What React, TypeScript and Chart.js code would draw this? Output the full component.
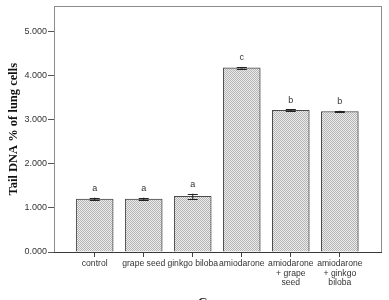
import React, { useEffect, useRef } from "react";
import { Chart, registerables } from "chart.js";

Chart.register(...registerables);

const categories: (string | string[])[] = [
  "control",
  "grape seed",
  "ginkgo biloba",
  "amiodarone",
  ["amiodarone", "+ grape", "seed"],
  ["amiodarone", "+ ginkgo", "biloba"],
];
const means = [1.2, 1.2, 1.26, 4.17, 3.21, 3.18];
const errors = [0.03, 0.03, 0.06, 0.02, 0.02, 0.02];
const letters = ["a", "a", "a", "c", "b", "b"];
const yTicks = [0, 1, 2, 3, 4, 5];
const yTitle = "Tail DNA % of lung cells";
const xTitle = "Groups";

function makePattern(): CanvasPattern | string {
  const c = document.createElement("canvas");
  c.width = 2;
  c.height = 2;
  const g = c.getContext("2d");
  if (!g) return "#d6d6d6";
  g.fillStyle = "#ececec";
  g.fillRect(0, 0, 2, 2);
  g.fillStyle = "#b4b4b4";
  g.fillRect(0, 0, 1, 1);
  g.fillRect(1, 1, 1, 1);
  const p = g.createPattern(c, "repeat");
  return p || "#d6d6d6";
}

const extras = {
  id: "extras",
  beforeDatasetsDraw(chart: any) {
    const { ctx, chartArea } = chart;
    ctx.save();
    ctx.strokeStyle = "#8c8c8c";
    ctx.lineWidth = 1;
    ctx.strokeRect(
      Math.round(chartArea.left) + 0.5,
      Math.round(chartArea.top) + 0.5,
      Math.round(chartArea.right - chartArea.left) - 1,
      Math.round(chartArea.bottom - chartArea.top)
    );
    ctx.restore();
  },
  afterDatasetsDraw(chart: any) {
    const { ctx, chartArea } = chart;
    const xs = chart.scales.x;
    const ys = chart.scales.y;
    ctx.save();
    ctx.strokeStyle = "#3a3a3a";
    ctx.lineWidth = 1;
    ctx.beginPath();
    const by = Math.round(chartArea.bottom) + 0.5;
    ctx.moveTo(chartArea.left, by);
    ctx.lineTo(chartArea.right, by);
    ctx.stroke();
    means.forEach((m, i) => {
      const x = xs.getPixelForValue(i);
      const yHi = ys.getPixelForValue(m + errors[i]);
      const yLo = ys.getPixelForValue(m - errors[i]);
      ctx.strokeStyle = "#222";
      ctx.lineWidth = 1;
      ctx.beginPath();
      ctx.moveTo(x, yHi);
      ctx.lineTo(x, yLo);
      ctx.moveTo(x - 5, Math.round(yHi) + 0.5);
      ctx.lineTo(x + 5, Math.round(yHi) + 0.5);
      ctx.moveTo(x - 5, Math.round(yLo) + 0.5);
      ctx.lineTo(x + 5, Math.round(yLo) + 0.5);
      ctx.stroke();
      ctx.fillStyle = "#333";
      ctx.font = "9px 'Liberation Sans', Arial, sans-serif";
      ctx.textAlign = "center";
      ctx.textBaseline = "middle";
      ctx.fillText(letters[i], x, yHi - 9);
    });
    ctx.fillStyle = "#111";
    ctx.font = "bold 12.5px 'Liberation Serif', 'Times New Roman', serif";
    ctx.textAlign = "center";
    ctx.textBaseline = "middle";
    ctx.save();
    ctx.translate(14, (chartArea.top + chartArea.bottom) / 2);
    ctx.rotate(-Math.PI / 2);
    ctx.fillText(yTitle, 0, 0);
    ctx.restore();
    ctx.textBaseline = "top";
    ctx.fillText(xTitle, (chartArea.left + chartArea.right) / 2, 297);
    ctx.restore();
  },
};

export default function App() {
  const ref = useRef<HTMLCanvasElement>(null);
  useEffect(() => {
    if (!ref.current) return;
    const pattern = makePattern();
    const chart = new Chart(ref.current, {
      type: "bar",
      data: {
        datasets: [
          {
            data: means.map((v, i) => ({ x: i, y: v })),
            backgroundColor: pattern as any,
            borderColor: "#4a4a4a",
            borderWidth: 1,
            barThickness: 37,
          },
        ],
      },
      options: {
        animation: false,
        responsive: false,
        maintainAspectRatio: false,
        layout: { padding: { top: 3, right: 7, left: 0, bottom: 0 } },
        plugins: { legend: { display: false }, tooltip: { enabled: false } },
        scales: {
          x: {
            type: "linear",
            min: -0.83,
            max: 5.86,
            offset: false,
            grid: {
              display: true,
              offset: false,
              drawOnChartArea: false,
              tickLength: 5,
              color: "#444",
            },
            border: { display: false },
            afterBuildTicks: (s: any) => {
              s.ticks = categories.map((_, i) => ({ value: i }));
            },
            afterFit: (s: any) => {
              s.height = 48;
            },
            ticks: {
              autoSkip: false,
              maxRotation: 0,
              minRotation: 0,
              padding: 2,
              color: "#333",
              font: { family: "'Liberation Sans', Arial, sans-serif", size: 8.6, lineHeight: 1.1 },
              callback: (v: any) => categories[v as number] as any,
            },
          },
          y: {
            min: 0,
            max: 5.56,
            grid: {
              display: true,
              drawOnChartArea: false,
              tickLength: 6,
              color: "#555",
            },
            border: { display: false },
            afterBuildTicks: (s: any) => {
              s.ticks = yTicks.map((v) => ({ value: v }));
            },
            afterFit: (s: any) => {
              s.width = 54;
            },
            ticks: {
              padding: 1,
              color: "#333",
              font: { family: "'Liberation Sans', Arial, sans-serif", size: 9 },
              callback: (v: any) => Number(v).toFixed(3),
            },
          },
        },
      },
      plugins: [extras],
    });
    return () => chart.destroy();
  }, []);
  return (
    <div style={{ position: "absolute", left: 0, top: 0, width: 389, height: 300, background: "#fff" }}>
      <canvas ref={ref} width={389} height={300} style={{ width: 389, height: 300, display: "block" }} />
    </div>
  );
}
